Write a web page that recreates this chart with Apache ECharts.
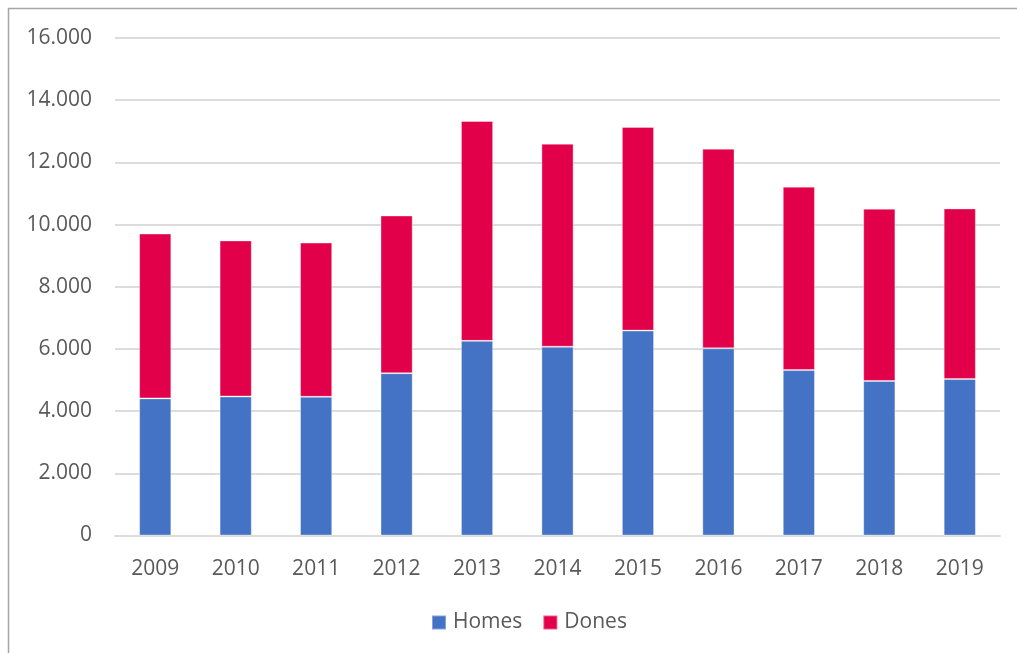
<!DOCTYPE html>
<html>
<head>
<meta charset="utf-8">
<script src="https://cdn.jsdelivr.net/npm/echarts@6/dist/echarts.min.js"></script>
<style>
  html, body { margin: 0; padding: 0; background: #fff; }
  #chart { width: 1017px; height: 653px; }
</style>
</head>
<body>
<div id="chart"></div>
<script>
const years = ['2009', '2010', '2011', '2012', '2013', '2014', '2015', '2016', '2017', '2018', '2019'];
const homes = [4410, 4470, 4460, 5220, 6260, 6070, 6590, 6020, 5320, 4970, 5030];
const dones = [5300, 5020, 4960, 5070, 7070, 6530, 6550, 6420, 5900, 5540, 5490];
const yTicks = [0, 2000, 4000, 6000, 8000, 10000, 12000, 14000, 16000];

const textColor = '#595959';
const gridColor = '#dcdcdc';

// format like 16.000
const fmt = (v) => v === 0 ? '0' : String(v).replace(/\B(?=(\d{3})+(?!\d))/g, '.');

var myChart = echarts.init(document.getElementById('chart'));
myChart.setOption({
    animation: false,
    textStyle: { fontFamily: 'Open Sans', color: textColor },
    graphic: [{
        type: 'rect',
        shape: { x: 8.5, y: 8.5, width: 1100, height: 700 },
        style: { fill: 'none', stroke: '#a6a6a6', lineWidth: 1.5 },
        silent: true
    }],
    grid: { left: 115, right: 17, top: 38, bottom: 117.5, containLabel: false },
    legend: {
        bottom: 15,
        left: 426,
        itemWidth: 14,
        itemHeight: 14,
        itemGap: 20,
        icon: 'rect',
        textStyle: { fontSize: 21, color: textColor, fontFamily: 'Open Sans', padding: [0, 0, 0, 2] },
        data: ['Homes', 'Dones']
    },
    xAxis: {
        type: 'category',
        data: years,
        axisTick: { show: false },
        axisLine: { lineStyle: { color: gridColor, width: 2 } },
        axisLabel: { fontSize: 21, color: textColor, margin: 23 }
    },
    yAxis: {
        type: 'value',
        min: yTicks[0],
        max: yTicks[yTicks.length - 1],
        interval: 2000,
        axisLine: { show: false },
        axisTick: { show: false },
        splitLine: { lineStyle: { color: gridColor, width: 2 } },
        axisLabel: { fontSize: 21, color: textColor, margin: 23, formatter: fmt }
    },
    series: [{
        name: 'Homes',
        type: 'bar',
        stack: 'total',
        barWidth: '40%',
        data: homes,
        itemStyle: { color: '#4472C4', borderColor: 'rgba(255,255,255,0.35)', borderWidth: 1 }
    }, {
        name: 'Dones',
        type: 'bar',
        stack: 'total',
        data: dones,
        itemStyle: { color: '#E3004B', borderColor: 'rgba(255,255,255,0.35)', borderWidth: 1 }
    }]
});
</script>
</body>
</html>
